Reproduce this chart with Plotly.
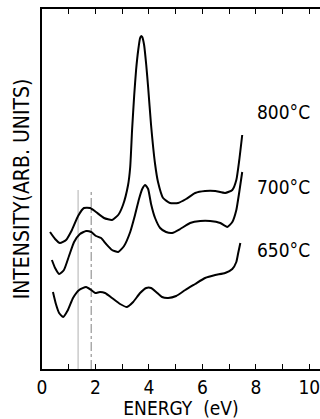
import plotly.graph_objects as go

# Energy (eV) and intensity (arb. units)
e800 = [0.30, 0.49, 0.67, 0.90, 1.12, 1.35, 1.57, 1.80, 2.02, 2.32, 2.62, 2.85, 3.03, 3.22, 3.30, 3.37, 3.45, 3.52, 3.60, 3.67, 3.71, 3.75, 3.82, 3.90, 3.97, 4.08, 4.23, 4.34, 4.53, 4.79, 5.09, 5.39, 5.73, 6.10, 6.48, 6.85, 7.12, 7.27, 7.38, 7.49]
i800 = [137, 130, 126, 129, 139, 153, 161, 161, 157, 151, 149, 154, 164, 184, 202, 239, 274, 299, 319, 331, 333, 332, 324, 304, 282, 244, 205, 187, 171, 166, 166, 170, 176, 178, 178, 176, 179, 189, 209, 234]

e700 = [0.37, 0.49, 0.64, 0.82, 1.01, 1.20, 1.42, 1.65, 1.84, 2.02, 2.21, 2.40, 2.62, 2.85, 3.07, 3.30, 3.48, 3.63, 3.75, 3.86, 3.97, 4.08, 4.23, 4.42, 4.64, 4.87, 5.17, 5.54, 5.92, 6.29, 6.67, 6.93, 7.12, 7.27, 7.38, 7.49]
i700 = [109, 101, 95, 99, 113, 127, 135, 138, 137, 133, 131, 125, 119, 117, 123, 137, 154, 170, 180, 184, 180, 165, 151, 141, 137, 136, 140, 146, 148, 148, 146, 142, 147, 159, 177, 197]

e650 = [0.41, 0.52, 0.64, 0.79, 0.97, 1.16, 1.39, 1.65, 1.84, 1.99, 2.17, 2.36, 2.62, 2.92, 3.18, 3.41, 3.67, 3.90, 4.08, 4.27, 4.49, 4.72, 5.02, 5.36, 5.73, 6.10, 6.48, 6.85, 7.12, 7.27, 7.34, 7.42]
i650 = [77, 65, 56, 52, 59, 71, 79, 82, 79, 76, 77, 76, 71, 65, 62, 67, 76, 81, 81, 77, 72, 71, 73, 79, 85, 91, 94, 96, 100, 107, 116, 126]

marker_e = [1.35, 1.84]
marker_top = 179

labels = ["800°C", "700°C", "650°C"]
label_y = [257, 182, 119]
label_x = 7.98

x_ticks = list(range(0, 11))
x_ticktext = [str(v) if v % 2 == 0 else "" for v in x_ticks]

FONT = "DejaVu Sans Condensed"

fig = go.Figure()

# vertical reference lines
fig.add_trace(go.Scatter(x=[marker_e[0], marker_e[0]], y=[0, marker_top], mode="lines",
                         line=dict(color="#b0b0b0", width=1), hoverinfo="skip", showlegend=False))
fig.add_trace(go.Scatter(x=[marker_e[1], marker_e[1]], y=[0, marker_top], mode="lines",
                         line=dict(color="#808080", width=1, dash="dashdot"), hoverinfo="skip", showlegend=False))

for ex, iy in [(e800, i800), (e700, i700), (e650, i650)]:
    fig.add_trace(go.Scatter(x=ex, y=iy, mode="lines",
                             line=dict(color="black", width=2, shape="spline", smoothing=0.5),
                             showlegend=False))

for t, yy in zip(labels, label_y):
    fig.add_annotation(x=label_x, y=yy, text=t, showarrow=False, xanchor="left", yanchor="middle",
                       font=dict(family=FONT, size=19, color="black"))

fig.update_layout(
    width=320, height=419,
    margin=dict(l=42, r=0, t=9, b=50),
    paper_bgcolor="white", plot_bgcolor="white",
    font=dict(family=FONT, color="black"),
)
fig.update_xaxes(range=[0, 10.4], showgrid=False, zeroline=False,
                 showline=True, linecolor="black", linewidth=1.5, mirror="ticks",
                 ticks="inside", ticklen=5, tickwidth=1.2, tickcolor="black",
                 tickvals=x_ticks, ticktext=x_ticktext, ticklabeloverflow="allow",
                 tickfont=dict(family=FONT, size=19),
                 title=dict(text="ENERGY  (eV)", font=dict(family=FONT, size=19), standoff=1))
fig.update_yaxes(range=[0, 360], showgrid=False, zeroline=False, showticklabels=False,
                 showline=True, linecolor="black", linewidth=1.5, ticks="",
                 title=dict(text="INTENSITY(ARB. UNITS)", font=dict(family=FONT, size=21), standoff=5))

fig.write_html("out.html", config={"displayModeBar": False},
               post_script="document.body.style.margin='0';document.body.style.overflow='hidden';")
